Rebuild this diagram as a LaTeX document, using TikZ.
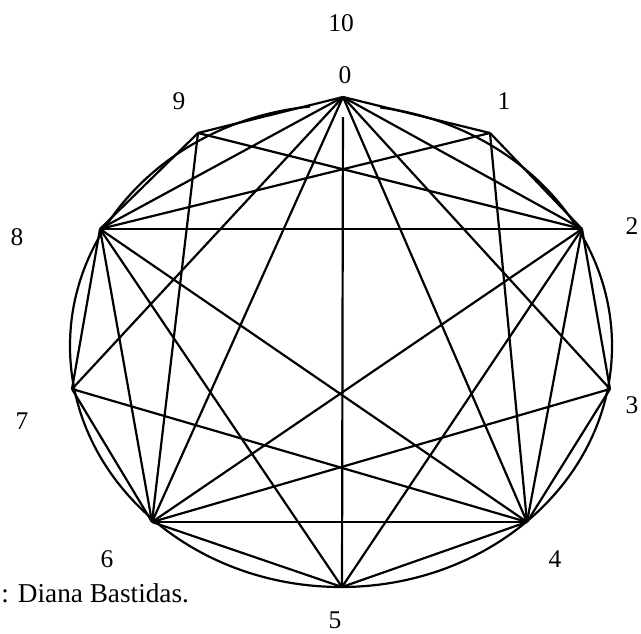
\documentclass[tikz,border=0pt]{standalone}
\usepackage{fontspec}
\setmainfont{Liberation Serif}
\usetikzlibrary{positioning}
\tikzset{
  % --- nodes
  lbl/.style  = {font=\fontsize{14.5}{17}\selectfont, inner sep=0pt},
  cover/.style= {lbl, fill=white, minimum width=1.4cm, minimum height=1.68cm},
  note/.style = {lbl, font=\fontsize{15.5}{18}\selectfont, anchor=base west},
  % --- edges
  e/.style    = {line width=1.25pt, draw=black, line join=round},
}

\begin{document}
\begin{tikzpicture}[x=0.02cm, y=-0.02cm]
  \useasboundingbox (0,0) rectangle (641,634);
  \clip (0,0) rectangle (641,634);

  % points of the ring
  \coordinate (v0) at (343,97);
  \coordinate (v1) at (490,133);
  \coordinate (v2) at (582,229);
  \coordinate (v3) at (610,389);
  \coordinate (v4) at (527,522);
  \coordinate (v5) at (342,587);
  \coordinate (v6) at (152,522);
  \coordinate (v7) at (72,389);
  \coordinate (v8) at (100,229);
  \coordinate (v9) at (198,133);

  \draw[e] (341,346) ellipse [x radius=271, y radius=241];
  \draw[e] (v5) -- (v0);
  \node[cover] (l0) at (345,75) {0};

  % even points: all joined
  \foreach \a/\b in {v0/v2,v0/v4,v0/v6,v0/v8,v2/v4,v2/v6,v2/v8,v4/v6,v4/v8,v6/v8}
    \draw[e] (\a) -- (\b);
  % odd points: steps of 1 and 3
  \foreach \a/\b in {v1/v0,v1/v2,v1/v4,v1/v8,v3/v2,v3/v4,v3/v6,v3/v0,
                     v5/v4,v5/v6,v5/v2,v5/v8,v7/v6,v7/v8,v7/v0,v7/v4,
                     v9/v8,v9/v0,v9/v2,v9/v6}
    \draw[e] (\a) -- (\b);

  \node[lbl] (l10) at (341,23) {10};
  \node[lbl] (l1) at (504,101) {1};
  \node[lbl] (l2) at (632,226) {2};
  \node[lbl] (l3) at (632,405) {3};
  \node[lbl] (l4) at (555,559) {4};
  \node[lbl] (l5) at (335,620) {5};
  \node[lbl] (l6) at (107,559) {6};
  \node[lbl] (l7) at (22,421) {7};
  \node[lbl] (l8) at (17,237) {8};
  \node[lbl] (l9) at (179,101) {9};

  \node[note] (src) at (1,602) {: Diana Bastidas.};
\end{tikzpicture}
\end{document}
